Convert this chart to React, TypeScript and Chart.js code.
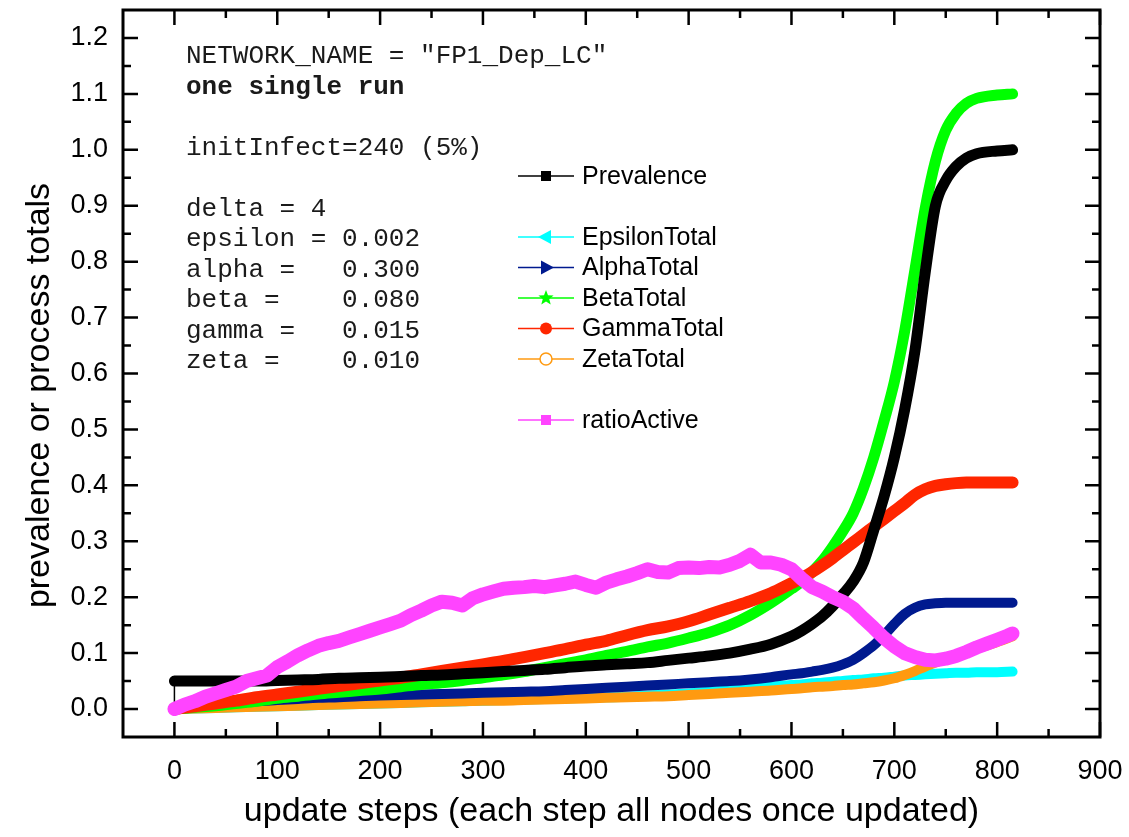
import React, { useEffect, useRef } from "react";
import { Chart, registerables } from "chart.js";

Chart.register(...registerables);

// ---------- data ----------
const steps = [
  0, 20, 40, 60, 80, 100, 120, 140, 160, 180, 200, 220, 240, 260, 280, 300,
  320, 340, 360, 380, 400, 420, 440, 460, 480, 500, 520, 540, 560, 580, 600,
  610, 620, 630, 640, 650, 660, 670, 680, 690, 700, 710, 720, 730, 740, 750,
  760, 770, 780, 800, 815,
];

const prevalence = [
  0.05, 0.05, 0.05, 0.05, 0.05, 0.051, 0.052, 0.053, 0.055, 0.056, 0.057,
  0.058, 0.06, 0.061, 0.063, 0.065, 0.067, 0.069, 0.071, 0.074, 0.077, 0.079,
  0.081, 0.083, 0.087, 0.091, 0.095, 0.1, 0.107, 0.116, 0.13,
  0.14, 0.152, 0.166, 0.184, 0.205, 0.228, 0.262, 0.32, 0.38, 0.45, 0.535, 0.64,
  0.78, 0.9, 0.945, 0.97, 0.985, 0.993, 0.998, 1.0,
];

const epsilonTotal = [
  0, 0.001, 0.002, 0.003, 0.004, 0.005, 0.006, 0.007, 0.008, 0.009, 0.01,
  0.011, 0.012, 0.013, 0.014, 0.015, 0.016, 0.017, 0.018, 0.019, 0.02, 0.021,
  0.022, 0.024, 0.026, 0.028, 0.031, 0.034, 0.037, 0.04, 0.043,
  0.044, 0.046, 0.047, 0.049, 0.05, 0.052, 0.053, 0.055, 0.056, 0.058, 0.06,
  0.061, 0.062, 0.063, 0.064, 0.065, 0.065, 0.066, 0.066, 0.067,
];

const alphaTotal = [
  0, 0.004, 0.008, 0.011, 0.014, 0.016, 0.018, 0.02, 0.021, 0.023, 0.024,
  0.025, 0.026, 0.027, 0.028, 0.029, 0.03, 0.031, 0.032, 0.034, 0.036, 0.038,
  0.04, 0.042, 0.044, 0.046, 0.048, 0.05, 0.053, 0.057, 0.062,
  0.064, 0.067, 0.07, 0.074, 0.08, 0.088, 0.1, 0.114, 0.132, 0.152, 0.17,
  0.181, 0.187, 0.189, 0.19, 0.19, 0.19, 0.19, 0.19, 0.19,
];

const betaTotal = [
  0, 0.003, 0.006, 0.01, 0.014, 0.019, 0.023, 0.027, 0.03, 0.033, 0.036,
  0.04, 0.044, 0.047, 0.051, 0.056, 0.061, 0.067, 0.074, 0.081, 0.088, 0.096,
  0.103, 0.111, 0.118, 0.127, 0.137, 0.15, 0.168, 0.19, 0.215,
  0.228, 0.245, 0.265, 0.29, 0.318, 0.35, 0.395, 0.45, 0.515, 0.585, 0.675,
  0.785, 0.895, 0.98, 1.035, 1.065, 1.083, 1.092, 1.098, 1.1,
];

const gammaTotal = [
  0, 0.005, 0.01, 0.015, 0.021, 0.026, 0.031, 0.036, 0.041, 0.046, 0.051,
  0.056, 0.062, 0.068, 0.074, 0.08, 0.086, 0.093, 0.1, 0.107, 0.115, 0.122,
  0.132, 0.141, 0.148, 0.157, 0.169, 0.181, 0.193, 0.207, 0.225,
  0.234, 0.245, 0.257, 0.27, 0.284, 0.298, 0.312, 0.326, 0.34, 0.354, 0.368,
  0.383, 0.393, 0.399, 0.402, 0.404, 0.405, 0.405, 0.405, 0.405,
];

const zetaTotal = [
  0, 0.001, 0.002, 0.003, 0.004, 0.005, 0.006, 0.007, 0.008, 0.009, 0.01,
  0.011, 0.012, 0.013, 0.014, 0.015, 0.015, 0.016, 0.017, 0.018, 0.019, 0.02,
  0.021, 0.022, 0.023, 0.025, 0.027, 0.029, 0.031, 0.033, 0.036,
  0.037, 0.039, 0.04, 0.041, 0.043, 0.044, 0.046, 0.048, 0.051, 0.055, 0.061,
  0.068, 0.076, 0.083, 0.09, 0.097, 0.102, 0.108, 0.12, 0.13,
];

const ratioSteps = [
  0, 10, 20, 30, 40, 50, 60, 70, 80, 90, 100, 110, 120, 130, 140, 150, 160,
  170, 180, 190, 200, 210, 220, 230, 240, 250, 260, 270, 280, 290, 300, 310,
  320, 330, 340, 350, 360, 370, 380, 390, 400, 410, 420, 430, 440, 450, 460,
  470, 480, 490, 500, 510, 520, 530, 540, 550, 560, 570, 580, 590, 600, 610,
  620, 630, 640, 650, 660, 670, 680, 690, 700, 710, 720, 730, 740, 750, 760,
  770, 780, 790, 800, 810, 815,
];

const ratioActive = [
  0.0, 0.008, 0.014, 0.022, 0.028, 0.034, 0.04, 0.05, 0.055, 0.06, 0.075,
  0.085, 0.096, 0.105, 0.113, 0.118, 0.122, 0.128, 0.134, 0.14, 0.146, 0.152,
  0.158, 0.168, 0.176, 0.185, 0.192, 0.19, 0.185, 0.198, 0.205, 0.21, 0.215,
  0.217, 0.218, 0.22, 0.218, 0.221, 0.224, 0.228, 0.222, 0.217, 0.226, 0.232,
  0.237, 0.243, 0.25, 0.245, 0.244, 0.252, 0.253, 0.252, 0.254, 0.253, 0.258,
  0.265, 0.276, 0.262, 0.262, 0.258, 0.25, 0.233, 0.218, 0.21, 0.2, 0.192,
  0.18, 0.162, 0.145, 0.127, 0.112, 0.1, 0.093, 0.088, 0.087, 0.09, 0.095,
  0.102, 0.11, 0.117, 0.124, 0.131, 0.135,
];

const xTickValues = [0, 100, 200, 300, 400, 500, 600, 700, 800, 900];
const xMinorValues = [50, 150, 250, 350, 450, 550, 650, 750, 850];
const yTickValues = [0, 0.1, 0.2, 0.3, 0.4, 0.5, 0.6, 0.7, 0.8, 0.9, 1.0, 1.1, 1.2];
const yMinorValues = [0.05, 0.15, 0.25, 0.35, 0.45, 0.55, 0.65, 0.75, 0.85, 0.95, 1.05, 1.15];

const xTitle = "update steps (each step all nodes once updated)";
const yTitle = "prevalence or process totals";

const annotationLines = [
  { text: 'NETWORK_NAME = "FP1_Dep_LC"', bold: false },
  { text: "one single run", bold: true },
  { text: "", bold: false },
  { text: "initInfect=240 (5%)", bold: false },
  { text: "", bold: false },
  { text: "delta = 4", bold: false },
  { text: "epsilon = 0.002", bold: false },
  { text: "alpha =   0.300", bold: false },
  { text: "beta =    0.080", bold: false },
  { text: "gamma =   0.015", bold: false },
  { text: "zeta =    0.010", bold: false },
];

// ---------- styles ----------
const SANS = "'Liberation Sans', Arial, Helvetica, sans-serif";
const MONO = "'Liberation Mono', 'Courier New', monospace";

type SeriesDef = {
  label: string;
  xs: number[];
  ys: number[];
  color: string;
  width: number;
  order: number;
  marker: string;
  tension: number;
};

const series: SeriesDef[] = [
  { label: "Prevalence", xs: steps, ys: prevalence, color: "#000000", width: 11, order: 1, marker: "square", tension: 0.4 },
  { label: "EpsilonTotal", xs: steps, ys: epsilonTotal, color: "#00ffff", width: 10, order: 6, marker: "triLeft", tension: 0.4 },
  { label: "AlphaTotal", xs: steps, ys: alphaTotal, color: "#001a8f", width: 10, order: 4, marker: "triRight", tension: 0.4 },
  { label: "BetaTotal", xs: steps, ys: betaTotal, color: "#00ff00", width: 11, order: 3, marker: "star", tension: 0.4 },
  { label: "GammaTotal", xs: steps, ys: gammaTotal, color: "#ff2600", width: 12, order: 2, marker: "circle", tension: 0.4 },
  { label: "ZetaTotal", xs: steps, ys: zetaTotal, color: "#ff9a10", width: 10, order: 5, marker: "openCircle", tension: 0.4 },
  { label: "ratioActive", xs: ratioSteps, ys: ratioActive, color: "#ff44ff", width: 14, order: 0, marker: "square", tension: 0 },
];

// legend rows (vertical slot of each series)
const legendSlots = [0, 2, 3, 4, 5, 6, 8];

function drawMarker(ctx: CanvasRenderingContext2D, kind: string, cx: number, cy: number, color: string) {
  ctx.save();
  ctx.fillStyle = color;
  ctx.strokeStyle = color;
  ctx.beginPath();
  if (kind === "square") {
    ctx.rect(cx - 5, cy - 5, 10, 10);
    ctx.fill();
  } else if (kind === "triLeft") {
    ctx.moveTo(cx - 8, cy);
    ctx.lineTo(cx + 5, cy - 7);
    ctx.lineTo(cx + 5, cy + 7);
    ctx.closePath();
    ctx.fill();
  } else if (kind === "triRight") {
    ctx.moveTo(cx + 8, cy);
    ctx.lineTo(cx - 5, cy - 7);
    ctx.lineTo(cx - 5, cy + 7);
    ctx.closePath();
    ctx.fill();
  } else if (kind === "star") {
    const R = 8, r = 3.4;
    for (let i = 0; i < 10; i++) {
      const rad = i % 2 === 0 ? R : r;
      const ang = -Math.PI / 2 + (i * Math.PI) / 5;
      const px = cx + rad * Math.cos(ang);
      const py = cy + rad * Math.sin(ang);
      if (i === 0) ctx.moveTo(px, py);
      else ctx.lineTo(px, py);
    }
    ctx.closePath();
    ctx.fill();
  } else if (kind === "circle") {
    ctx.arc(cx, cy, 6, 0, Math.PI * 2);
    ctx.fill();
  } else if (kind === "openCircle") {
    ctx.arc(cx, cy, 6, 0, Math.PI * 2);
    ctx.fillStyle = "#ffffff";
    ctx.fill();
    ctx.lineWidth = 1.5;
    ctx.stroke();
  }
  ctx.restore();
}

const decorPlugin = {
  id: "decor",
  afterDatasetsDraw(chart: any) {
    const { ctx, chartArea: a, scales } = chart;
    const xs = scales.x;
    const ys = scales.y;
    ctx.save();
    ctx.strokeStyle = "#000";
    ctx.lineWidth = 2.5;
    ctx.beginPath();
    const major = 15;
    const minor = 8;
    for (const v of xTickValues) {
      const p = xs.getPixelForValue(v);
      ctx.moveTo(p, a.bottom);
      ctx.lineTo(p, a.bottom - major);
      ctx.moveTo(p, a.top);
      ctx.lineTo(p, a.top + major);
    }
    for (const v of xMinorValues) {
      const p = xs.getPixelForValue(v);
      ctx.moveTo(p, a.bottom);
      ctx.lineTo(p, a.bottom - minor);
      ctx.moveTo(p, a.top);
      ctx.lineTo(p, a.top + minor);
    }
    for (const v of yTickValues) {
      const p = ys.getPixelForValue(v);
      ctx.moveTo(a.left, p);
      ctx.lineTo(a.left + major, p);
      ctx.moveTo(a.right, p);
      ctx.lineTo(a.right - major, p);
    }
    for (const v of yMinorValues) {
      const p = ys.getPixelForValue(v);
      ctx.moveTo(a.left, p);
      ctx.lineTo(a.left + minor, p);
      ctx.moveTo(a.right, p);
      ctx.lineTo(a.right - minor, p);
    }
    ctx.stroke();
    ctx.lineWidth = 3;
    ctx.strokeRect(a.left, a.top, a.right - a.left, a.bottom - a.top);
    ctx.restore();
  },
  afterDraw(chart: any) {
    const { ctx, chartArea: a } = chart;
    ctx.save();
    // axis titles
    ctx.fillStyle = "#000";
    ctx.font = `34px ${SANS}`;
    ctx.textAlign = "center";
    ctx.textBaseline = "alphabetic";
    ctx.fillText(xTitle, (a.left + a.right) / 2, a.bottom + 84);
    ctx.save();
    ctx.translate(a.left - 74, (a.top + a.bottom) / 2 + 22);
    ctx.rotate(-Math.PI / 2);
    ctx.fillText(yTitle, 0, 0);
    ctx.restore();

    // annotation text
    ctx.textAlign = "left";
    ctx.fillStyle = "#1a1a1a";
    annotationLines.forEach((ln, i) => {
      if (!ln.text) return;
      ctx.font = `${ln.bold ? "bold " : ""}26px ${MONO}`;
      ctx.fillText(ln.text, a.left + 63, a.top + 53 + i * 30.5);
    });

    // legend
    const lx0 = a.left + 395;
    const lx1 = a.left + 451;
    const ly0 = a.top + 166;
    const lstep = 30.5;
    ctx.font = `25px ${SANS}`;
    ctx.textBaseline = "middle";
    legendSlots.forEach((slot, idx) => {
      const s = series[idx];
      const y = ly0 + slot * lstep;
      ctx.strokeStyle = s.color;
      ctx.lineWidth = 1.5;
      ctx.beginPath();
      ctx.moveTo(lx0, y);
      ctx.lineTo(lx1, y);
      ctx.stroke();
      drawMarker(ctx, s.marker, (lx0 + lx1) / 2, y, s.color);
      ctx.fillStyle = "#000";
      ctx.fillText(s.label, lx1 + 8, y + 1);
    });
    ctx.restore();
  },
};

export default function App() {
  const canvasRef = useRef<HTMLCanvasElement | null>(null);

  useEffect(() => {
    const canvas = canvasRef.current;
    if (!canvas) return;

    const datasets: any[] = series.map((s) => ({
      label: s.label,
      data: s.xs.map((x, i) => ({ x, y: s.ys[i] })),
      borderColor: s.color,
      backgroundColor: s.color,
      borderWidth: s.width,
      pointRadius: 0,
      fill: false,
      tension: s.tension,
      cubicInterpolationMode: s.tension > 0 ? "monotone" : "default",
      borderJoinStyle: "round",
      borderCapStyle: "round",
      order: s.order,
    }));
    datasets.push({
      label: "start",
      data: [
        { x: 0, y: 0 },
        { x: 0, y: prevalence[0] },
      ],
      borderColor: "#000",
      borderWidth: 1.5,
      pointRadius: 0,
      fill: false,
      order: 7,
    });

    const chart = new Chart(canvas, {
      type: "line",
      data: { datasets },
      options: {
        animation: false,
        responsive: false,
        maintainAspectRatio: false,
        devicePixelRatio: 1,
        layout: { padding: { top: 10, right: 29, left: 0, bottom: 0 } },
        plugins: {
          legend: { display: false },
          tooltip: { enabled: false },
          title: { display: false },
        },
        scales: {
          x: {
            type: "linear",
            min: -50,
            max: 900,
            offset: false,
            grid: { display: false, drawTicks: false },
            border: { display: false },
            ticks: {
              padding: 18,
              color: "#000",
              font: { family: SANS, size: 27 },
              maxRotation: 0,
              autoSkip: false,
              callback: (v: any) => String(v),
            },
            afterBuildTicks: (scale: any) => {
              scale.ticks = xTickValues.map((v) => ({ value: v }));
            },
            afterFit: (scale: any) => {
              scale.height = 100;
              scale.paddingLeft = 0;
              scale.paddingRight = 0;
            },
          },
          y: {
            type: "linear",
            min: -0.05,
            max: 1.25,
            grid: { display: false, drawTicks: false },
            border: { display: false },
            ticks: {
              padding: 15,
              color: "#000",
              font: { family: SANS, size: 27 },
              autoSkip: false,
              callback: (v: any) => Number(v).toFixed(1),
            },
            afterBuildTicks: (scale: any) => {
              scale.ticks = yTickValues.map((v) => ({ value: v }));
            },
            afterFit: (scale: any) => {
              scale.width = 123;
              scale.paddingTop = 0;
              scale.paddingBottom = 0;
            },
          },
        },
      },
      plugins: [decorPlugin],
    });

    return () => chart.destroy();
  }, []);

  return (
    <div style={{ position: "absolute", left: 0, top: 0, width: 1129, height: 837, background: "#fff" }}>
      <canvas ref={canvasRef} width={1129} height={837} style={{ width: 1129, height: 837, display: "block" }} />
    </div>
  );
}
